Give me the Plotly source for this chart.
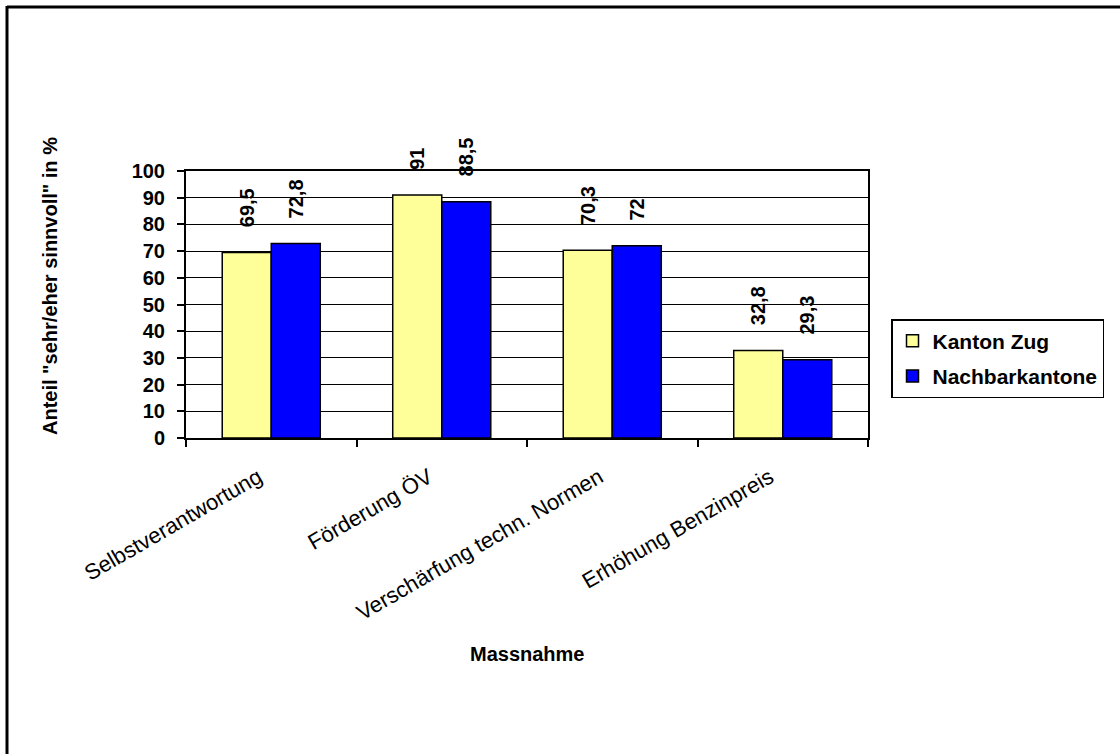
import plotly.graph_objects as go

# Massnahmen und Zustimmungsanteile in %
categories = ["Selbstverantwortung", "Förderung ÖV", "Verschärfung techn. Normen", "Erhöhung Benzinpreis"]
kanton_zug = [69.5, 91, 70.3, 32.8]
nachbarkantone = [72.8, 88.5, 72, 29.3]
y_ticks = [0, 10, 20, 30, 40, 50, 60, 70, 80, 90, 100]

FONT = "Liberation Sans, Arial, sans-serif"
PAD = "\u00a0" * 4  # Abstand zwischen Balken und Wertbeschriftung


def label(v):
    return PAD + f"{v:g}".replace(".", ",")


# Plotbereich in Pixeln
W, H = 1120, 754
L, R, T, B = 186, 868, 171, 438
pw, ph = R - L, B - T


def px(x):
    return (x - L) / pw


def py(y):
    return (B - y) / ph


fig = go.Figure()
for name, vals, color in [
    ("Kanton Zug", kanton_zug, "#FFFF99"),
    ("Nachbarkantone", nachbarkantone, "#0000FF"),
]:
    fig.add_trace(go.Bar(
        name=name,
        x=categories,
        y=vals,
        legendgroup=name,
        marker=dict(color=color, line=dict(color="black", width=1.5)),
        text=[label(v) for v in vals],
        textposition="outside",
        textangle=-90,
        constraintext="none",
        cliponaxis=False,
        textfont=dict(family=FONT, size=20, color="black", weight="bold"),
    ))

fig.update_layout(
    width=W, height=H,
    margin=dict(l=L, r=W - R, t=T, b=H - B, pad=0),
    paper_bgcolor="white", plot_bgcolor="white",
    barmode="group", bargap=0.425, bargroupgap=0,
    font=dict(family=FONT, color="black"),
    showlegend=True,
    legend=dict(
        x=px(891), y=py(319), xanchor="left", yanchor="top",
        bordercolor="black", borderwidth=1.5, bgcolor="white",
        font=dict(family=FONT, size=21, color="black", weight="bold"),
        tracegroupgap=5, itemwidth=30,
    ),
    xaxis=dict(
        type="category", tickson="boundaries", ticks="outside", ticklen=7,
        tickcolor="black", tickwidth=1.5, tickangle=-30,
        ticklabelstandoff=16, ticklabelshift=-13,
        showline=True, linecolor="black", linewidth=2, mirror=True,
        showgrid=False,
        tickfont=dict(family=FONT, size=22, color="black"),
    ),
    yaxis=dict(
        range=[0, 100], tickvals=y_ticks, ticks="outside", ticklen=7,
        tickcolor="black", tickwidth=1.5, ticklabelstandoff=8,
        showline=True, linecolor="black", linewidth=2, mirror=True,
        showgrid=True, gridcolor="black", gridwidth=1.3, zeroline=False,
        tickfont=dict(family=FONT, size=20, color="black", weight="bold"),
    ),
    annotations=[
        dict(text='Anteil "sehr/eher sinnvoll" in %', textangle=-90,
             xref="paper", yref="paper", x=px(50), y=py(286),
             xanchor="center", yanchor="middle", showarrow=False,
             font=dict(family=FONT, size=20, color="black", weight="bold")),
        dict(text="Massnahme",
             xref="paper", yref="paper", x=px(527), y=py(654),
             xanchor="center", yanchor="middle", showarrow=False,
             font=dict(family=FONT, size=20, color="black", weight="bold")),
    ],
    shapes=[
        dict(type="line", xref="paper", yref="paper",
             x0=px(7), y0=py(7), x1=px(1130), y1=py(7),
             line=dict(color="black", width=3)),
        dict(type="line", xref="paper", yref="paper",
             x0=px(7), y0=py(6), x1=px(7), y1=py(770),
             line=dict(color="black", width=3)),
    ],
)

fig.write_html("out.html")
